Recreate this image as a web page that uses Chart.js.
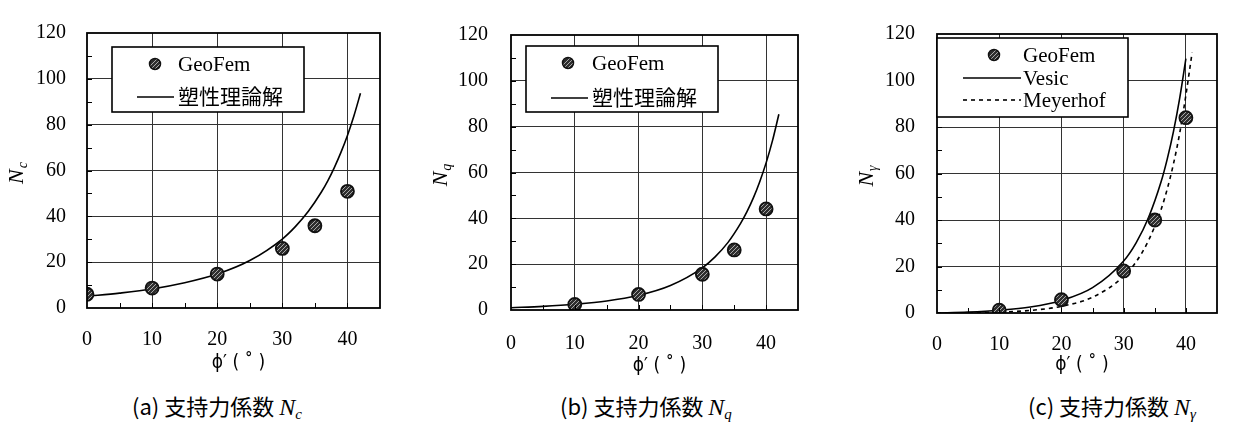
<!DOCTYPE html>
<html><head><meta charset="utf-8">
<script src="https://cdn.jsdelivr.net/npm/chart.js@4/dist/chart.umd.min.js"></script>
<style>
html,body{margin:0;padding:0;background:#fff;}
body{width:1237px;height:433px;position:relative;overflow:hidden;}
canvas{position:absolute;top:0;}
.cap{position:absolute;top:391px;font-family:"Noto Sans CJK JP",sans-serif;font-size:22px;line-height:28px;white-space:nowrap;color:#000;}
.cap i{font-family:"Liberation Serif",serif;font-size:24px;}
.cap sub{font-family:"Liberation Serif",serif;font-style:italic;font-size:15px;vertical-align:-4px;}
</style></head>
<body>
<canvas id="ca" width="400" height="380" style="left:0px"></canvas>
<canvas id="cb" width="400" height="380" style="left:420px"></canvas>
<canvas id="cc" width="407" height="380" style="left:830px"></canvas>
<div class="cap" style="left:132px">(a) 支持力係数 <i>N</i><sub>c</sub></div>
<div class="cap" style="left:560px">(b) 支持力係数 <i>N</i><sub>q</sub></div>
<div class="cap" style="left:1028px">(c) 支持力係数 <i>N</i><sub>γ</sub></div>
<script>
// ---------------- data ----------------
const xTickLabels = [0, 10, 20, 30, 40];
const yTickLabels = [0, 20, 40, 60, 80, 100, 120];

// (a) Nc
const geoPhiA = [0, 10, 20, 30, 35, 40];
const geoNc   = [6.0, 8.7, 14.8, 26.0, 35.9, 50.9];
const phiNc   = [0, 5, 10, 15, 20, 25, 30, 32, 34, 36, 37, 38, 39, 40, 41, 42];
const ncTheory= [5.1, 6.5, 8.3, 11.0, 14.8, 20.7, 30.1, 35.5, 42.2, 50.6, 55.6, 61.4, 67.9, 75.3, 83.9, 93.7];

// (b) Nq
const geoPhiB = [10, 20, 30, 35, 40];
const geoNq   = [2.4, 6.8, 15.6, 26.2, 44.1];
const phiNq   = [0, 5, 10, 15, 20, 25, 30, 32, 34, 36, 37, 38, 39, 40, 41, 42];
const nqTheory= [1.0, 1.6, 2.5, 3.9, 6.4, 10.7, 18.4, 23.2, 29.4, 37.8, 42.9, 48.9, 56.0, 64.2, 73.9, 85.4];

// (c) Ngamma
const geoPhiC    = [10, 20, 30, 35, 40];
const geoNg      = [1.2, 5.7, 18.1, 40.0, 84.0];
const phiVesic   = [0, 5, 10, 15, 20, 25, 30, 32, 34, 36, 37, 38, 39, 40];
const ngVesic    = [0, 0.4, 1.2, 2.6, 5.4, 10.9, 22.4, 30.2, 41.1, 56.3, 66.2, 78.0, 92.3, 109.4];
const phiMeyerhof= [0, 5, 10, 15, 20, 25, 30, 32, 34, 36, 37, 38, 39, 40, 41];
const ngMeyerhof = [0, 0.1, 0.4, 1.1, 2.9, 6.8, 15.7, 22.0, 31.2, 44.4, 53.3, 64.1, 77.3, 93.7, 112.0];

// ---------------- helpers ----------------
const pts = (xs, ys) => xs.map((x, i) => ({x, y: ys[i]}));

function makePattern() {
  const c = document.createElement('canvas'); c.width = 4; c.height = 4;
  const g = c.getContext('2d');
  g.fillStyle = '#2e2e2e'; g.fillRect(0, 0, 4, 4);
  g.fillStyle = '#a8a8a8';
  for (let i = 0; i < 4; i++) g.fillRect(i, 3 - i, 1, 1);
  return g.createPattern(c, 'repeat');
}
const markerFill = makePattern();

const SERIF = '"Liberation Serif", "Times New Roman", serif';
const CJK = '"Noto Sans CJK JP", sans-serif';

const decor = {
  id: 'decor',
  afterDatasetsDraw(chart, args, o) {
    const ctx = chart.ctx, a = chart.chartArea;
    const xs = chart.scales.x, ys = chart.scales.y;
    ctx.save();
    // inward tick marks
    ctx.strokeStyle = '#000'; ctx.lineWidth = 1;
    ctx.beginPath();
    xs.ticks.forEach(t => {
      if (t.value <= xs.min || t.value >= xs.max) return;
      const px = Math.round(xs.getPixelForValue(t.value)) + 0.5;
      ctx.moveTo(px, a.bottom); ctx.lineTo(px, a.bottom - 5);
    });
    ys.ticks.forEach(t => {
      if (t.value <= ys.min || t.value >= ys.max) return;
      const py = Math.round(ys.getPixelForValue(t.value)) + 0.5;
      ctx.moveTo(a.left, py); ctx.lineTo(a.left + 5, py);
    });
    ctx.stroke();
    // frame
    ctx.lineWidth = 1.8; ctx.strokeStyle = '#000';
    ctx.strokeRect(a.left, a.top, a.right - a.left, a.bottom - a.top);

    // legend
    const L = o.legend;
    const bx = a.left + L.dx, by = a.top + L.dy;
    ctx.fillStyle = '#fff';
    ctx.fillRect(bx, by, L.w, L.h);
    ctx.lineWidth = 1.6; ctx.strokeStyle = '#000';
    ctx.strokeRect(bx, by, L.w, L.h);
    ctx.textBaseline = 'middle'; ctx.textAlign = 'left';
    L.items.forEach(it => {
      const y = a.top + it.y;
      if (it.kind === 'point') {
        ctx.beginPath();
        ctx.arc(a.left + it.sx, y, 5.5, 0, Math.PI * 2);
        ctx.fillStyle = markerFill; ctx.fill();
        ctx.lineWidth = 1.5; ctx.strokeStyle = '#111'; ctx.stroke();
      } else {
        ctx.beginPath();
        ctx.setLineDash(it.kind === 'dash' ? [4, 4] : []);
        ctx.lineWidth = 1.6; ctx.strokeStyle = '#000';
        ctx.moveTo(a.left + it.sx, y); ctx.lineTo(a.left + it.ex, y);
        ctx.stroke(); ctx.setLineDash([]);
      }
      ctx.fillStyle = '#000';
      ctx.font = '21px ' + SERIF + ', ' + CJK;
      ctx.fillText(it.text, a.left + L.tx, y + 1);
    });

    // x title
    ctx.font = '19px "DejaVu Sans Condensed", "DejaVu Sans", sans-serif';
    ctx.textAlign = 'center';
    ctx.fillText('ϕ′ ( ˚ )', (a.left + a.right) / 2 + 5, a.bottom + o.xTitleDy);

    // y title
    ctx.translate(a.left - 71, (a.top + a.bottom) / 2 + 3);
    ctx.rotate(-Math.PI / 2);
    ctx.font = 'italic 22px ' + SERIF;
    const wN = ctx.measureText('N').width;
    ctx.font = 'italic 14px ' + SERIF;
    const wS = ctx.measureText(o.sub).width;
    const x0 = -(wN + wS) / 2;
    ctx.textAlign = 'left'; ctx.textBaseline = 'alphabetic';
    ctx.font = 'italic 22px ' + SERIF;
    ctx.fillText('N', x0, 7);
    ctx.font = 'italic 14px ' + SERIF;
    ctx.fillText(o.sub, x0 + wN + 1, 11);
    ctx.restore();
  }
};

function makeChart(id, cfg) {
  const datasets = [];
  cfg.lines.forEach(l => datasets.push({
    data: l.data, showLine: true, pointRadius: 0, borderColor: '#000',
    borderWidth: 1.6, borderDash: l.dash || [], cubicInterpolationMode: 'monotone',
    fill: false, order: 2
  }));
  datasets.push({
    data: cfg.points, showLine: false, pointRadius: 6.5, pointStyle: 'circle',
    pointBackgroundColor: markerFill, pointBorderColor: '#111', pointBorderWidth: 1.8,
    order: 1
  });
  const gridCol = '#333';
  return new Chart(document.getElementById(id), {
    type: 'scatter',
    data: { datasets },
    options: {
      responsive: false, animation: false, devicePixelRatio: 1, events: [],
      layout: { padding: { top: cfg.top, right: cfg.right, left: 0, bottom: 0 } },
      plugins: {
        legend: { display: false }, tooltip: { enabled: false },
        decor: { legend: cfg.legend, sub: cfg.sub, xTitleDy: cfg.xTitleDy }
      },
      scales: {
        x: {
          type: 'linear', min: 0, max: 45,
          afterFit: s => { s.height = 380 - cfg.bottom; },
          ticks: {
            stepSize: 5, autoSkip: false, maxRotation: 0, color: '#000', padding: cfg.xPad,
            font: { family: SERIF, size: 20 },
            callback: v => xTickLabels.includes(v) ? String(v) : ''
          },
          grid: {
            drawTicks: false,
            color: c => (c.tick && xTickLabels.includes(c.tick.value) && c.tick.value > 0) ? gridCol : 'rgba(0,0,0,0)',
            lineWidth: 1
          },
          border: { display: false }
        },
        y: {
          min: 0, max: 120,
          afterFit: s => { s.width = cfg.yW; },
          ticks: {
            stepSize: 10, autoSkip: false, color: '#000', padding: cfg.yPad,
            font: { family: SERIF, size: 20 },
            callback: v => yTickLabels.includes(v) ? String(v) : ''
          },
          grid: {
            drawTicks: false,
            color: c => (c.tick && yTickLabels.includes(c.tick.value) && c.tick.value > 0 && c.tick.value < 120) ? gridCol : 'rgba(0,0,0,0)',
            lineWidth: 1
          },
          border: { display: false }
        }
      }
    },
    plugins: [decor]
  });
}

makeChart('ca', {
  top: 14, right: 12, bottom: 308, yW: 87, yPad: 21, xPad: 20, xTitleDy: 55, sub: 'c',
  points: pts(geoPhiA, geoNc),
  lines: [{ data: pts(phiNc, ncTheory) }],
  legend: { dx: 25, dy: 14, w: 192, h: 65, tx: 91, items: [
    { kind: 'point', sx: 68, y: 31, text: 'GeoFem' },
    { kind: 'line', sx: 50, ex: 87, y: 64, text: '塑性理論解' }
  ]}
});
makeChart('cb', {
  top: 15, right: 7, bottom: 310, yW: 91, yPad: 23, xPad: 22, xTitleDy: 56, sub: 'q',
  points: pts(geoPhiB, geoNq),
  lines: [{ data: pts(phiNq, nqTheory) }],
  legend: { dx: 15, dy: 11, w: 192, h: 66, tx: 81, items: [
    { kind: 'point', sx: 57, y: 28, text: 'GeoFem' },
    { kind: 'line', sx: 40, ex: 77, y: 63, text: '塑性理論解' }
  ]}
});
makeChart('cc', {
  top: 17, right: 2, bottom: 313, yW: 107, yPad: 22, xPad: 20, xTitleDy: 52, sub: 'γ',
  points: pts(geoPhiC, geoNg),
  lines: [{ data: pts(phiVesic, ngVesic) }, { data: pts(phiMeyerhof, ngMeyerhof), dash: [4, 4] }],
  legend: { dx: 0, dy: 4, w: 191, h: 79, tx: 86, items: [
    { kind: 'point', sx: 57, y: 21, text: 'GeoFem' },
    { kind: 'line', sx: 26, ex: 84, y: 44, text: 'Vesic' },
    { kind: 'dash', sx: 26, ex: 84, y: 66, text: 'Meyerhof' }
  ]}
});
</script>
</body></html>
